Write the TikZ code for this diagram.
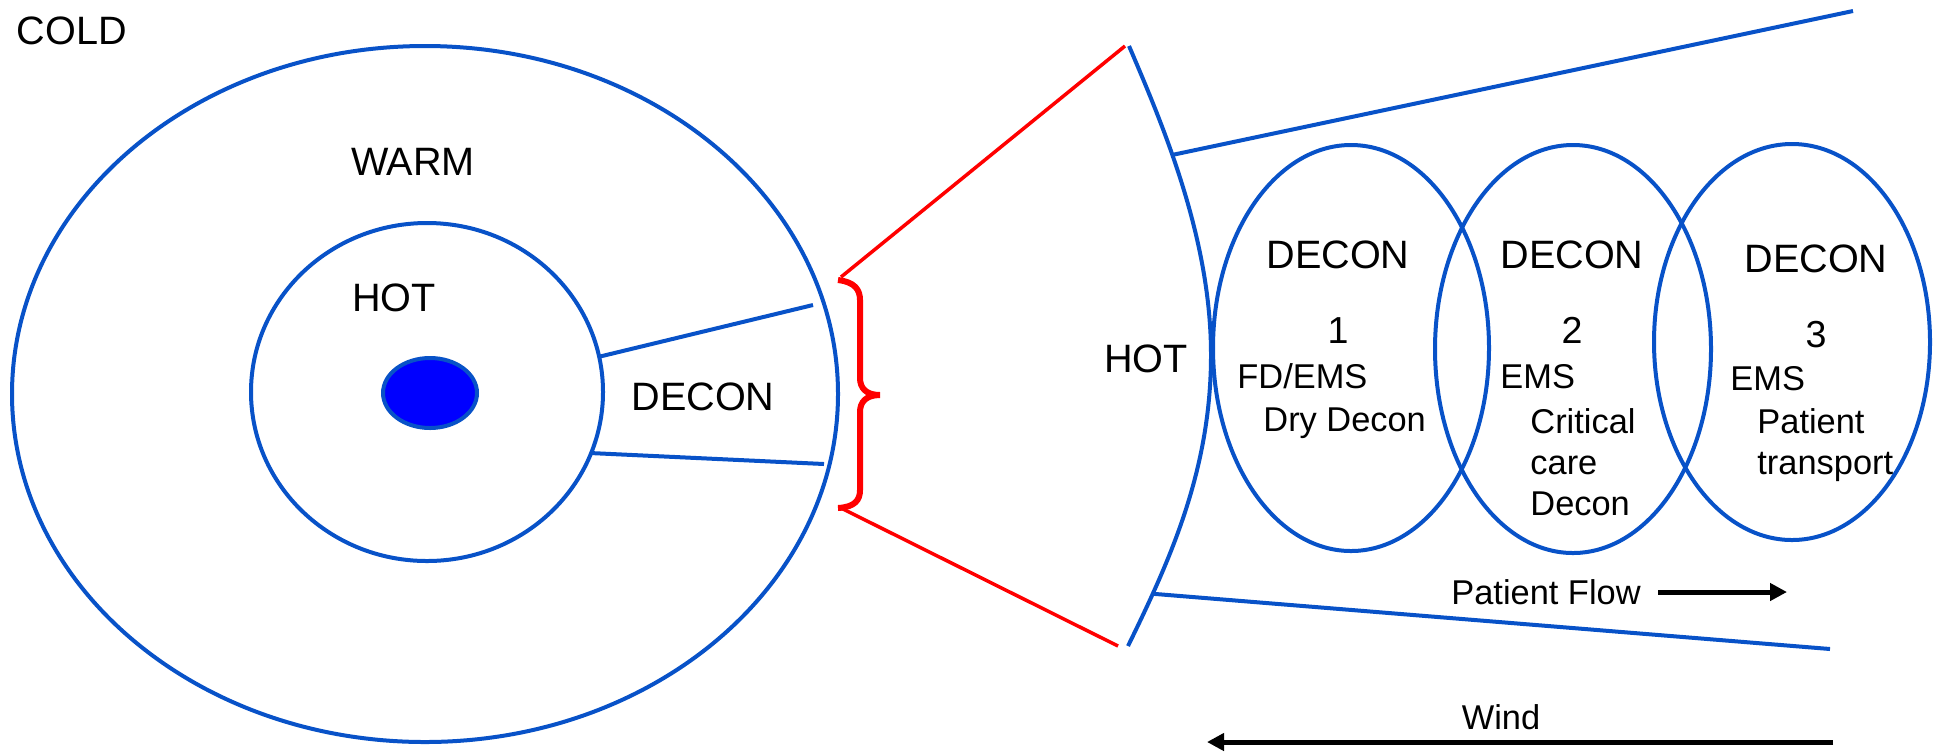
\documentclass[tikz,border=0pt]{standalone}
\usepackage{fontspec}
\setmainfont{Liberation Sans}
\usetikzlibrary{arrows.meta}
\definecolor{zoneblue}{RGB}{8,82,200}
\definecolor{bracered}{RGB}{255,0,0}
\tikzset{
  zone/.style={draw=zoneblue,line width=2pt},
  bigtxt/.style={font=\fontsize{19.8}{23}\selectfont,inner sep=0pt},
  numtxt/.style={font=\fontsize{18.8}{22}\selectfont,inner sep=0pt},
  smalltxt/.style={font=\fontsize{17.2}{20.5}\selectfont,inner sep=0pt,align=left},
  flowarrow/.style={line width=2.5pt,-{Triangle[length=8.5pt,width=8.5pt]}}
}

\begin{document}
\begin{tikzpicture}[x=0.5pt,y=-0.5pt]
\useasboundingbox (0,0) rectangle (1941,752);
\draw[zone] (425,394) ellipse [x radius=413,y radius=348];
\draw[zone] (427,392) ellipse [x radius=176,y radius=169];
\draw[draw=zoneblue,line width=2pt,fill=blue] (430,393) ellipse [x radius=47,y radius=35];
\draw[zone] (598,357) -- (813,305);
\draw[zone] (590,453) -- (824,464);
\node[bigtxt] (cold) at (72,31) {COLD};
\node[bigtxt] (warm) at (413,162) {WARM};
\node[bigtxt] (hotin) at (394,298) {HOT};
\node[bigtxt] (deconin) at (703,397) {DECON};
\draw[bracered,line width=3pt] (838,280) .. controls (855,282) and (860,290) .. (860,300) -- (860,378) .. controls (860,388) and (866,395) .. (880,395) .. controls (866,395) and (860,402) .. (860,412) -- (860,490) .. controls (860,500) and (855,507) .. (838,508);
\draw[bracered,line width=1.75pt] (841,277) -- (1125,46);
\draw[bracered,line width=1.75pt] (841,508) -- (1118,646);
\draw[zone] (1129,46) .. controls (1165,130) and (1211,240) .. (1211,355) coordinate[pos=0.39] (conetop) .. controls (1211,470) and (1170,560) .. (1128,646) coordinate[pos=0.8] (conebot);
\coordinate (conetopend) at (1853,11);
\coordinate (conebotend) at (1830,649);
\draw[zone] (conetop) -- (conetopend);
\draw[zone] (conebot) -- (conebotend);
\node[bigtxt] (hotout) at (1146,359) {HOT};
\foreach \n/\x/\y/\ry in {1/1351/348/203,2/1573/349/204,3/1792/342/198}
  \draw[zone] (\x,\y) ellipse [x radius=138,y radius=\ry];
\foreach \n/\x/\y in {1/1338/268,2/1572/268,3/1816/272} {
  \node[bigtxt,anchor=base] (decon\n) at (\x,\y) {DECON};
  \node[numtxt,anchor=base] (num\n) at (\x,\y+75) {\n};
}
\node[smalltxt,anchor=base west] (role1) at (1237,388) {FD/EMS};
\node[smalltxt,anchor=base west] (role2) at (1500,388) {EMS};
\node[smalltxt,anchor=base west] (role3) at (1730,390) {EMS};
\node[smalltxt,anchor=north west] (task1) at (1263,407) {Dry Decon};
\node[smalltxt,anchor=north west] (task2) at (1530,408) {Critical\\care\\Decon};
\node[smalltxt,anchor=north west] (task3) at (1757,408) {Patient\\transport};
\node[smalltxt] (pflow) at (1546,592) {Patient Flow};
\coordinate (pflowend) at (1787,592);
\draw[flowarrow] ([xshift=8.5pt]pflow.east) -- (pflowend);
\node[smalltxt] (wind) at (1501,717) {Wind};
\coordinate (windtail) at (1833,742);
\coordinate (windtip) at (1207,742);
\draw[flowarrow] (windtail) -- (windtip);
\end{tikzpicture}
\end{document}
